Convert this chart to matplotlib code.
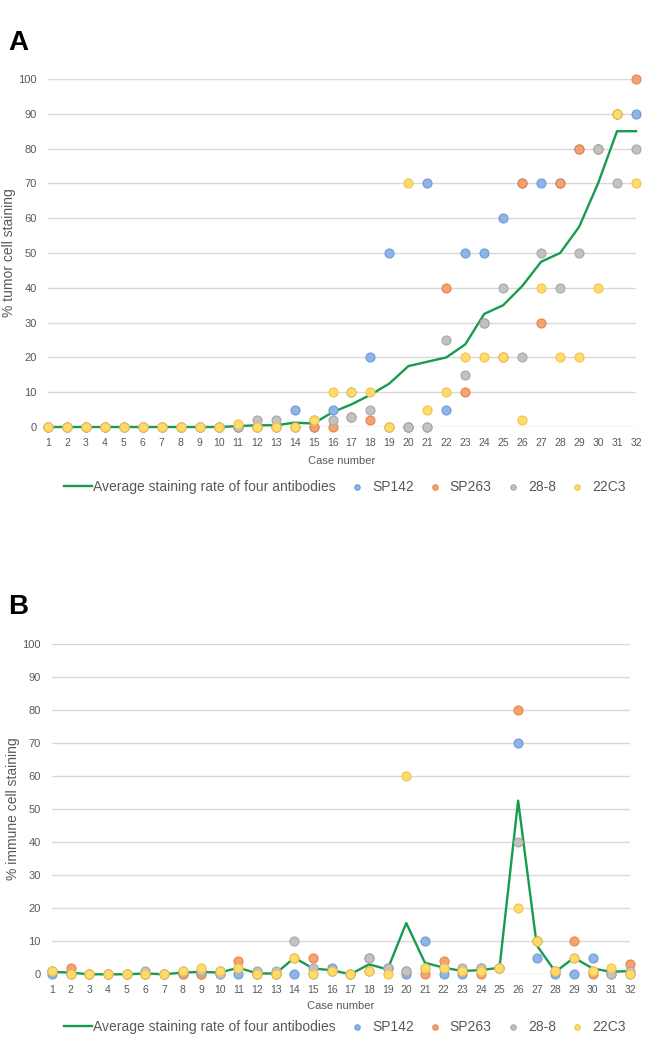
import matplotlib
matplotlib.use('Agg')
import matplotlib.pyplot as plt
import numpy as np

plt.rcParams['font.family'] = ['Liberation Sans', 'DejaVu Sans']

cases = list(range(1, 33))
tick_labels = [str(c) for c in cases]
series_names = ['SP142', 'SP263', '28-8', '22C3']
avg_label = 'Average staining rate of four antibodies'

# Panel A: % tumor cell staining (cases 1..32)
tc_sp142 = [0, 0, 0, 0, 0, 0, 0, 0, 0, 0, 0, 0, 0, 5, 0, 5, 10, 20, 50, 0, 70, 5, 50, 50, 60, 70, 70, 70, 80, 80, 90, 90]
tc_sp263 = [0, 0, 0, 0, 0, 0, 0, 0, 0, 0, 0, 0, 0, 0, 0, 0, 3, 2, 0, 0, 0, 40, 10, 30, 20, 70, 30, 70, 80, 80, 90, 100]
tc_288 = [0, 0, 0, 0, 0, 0, 0, 0, 0, 0, 0, 2, 2, 0, 2, 2, 3, 5, 0, 0, 0, 25, 15, 30, 40, 20, 50, 40, 50, 80, 70, 80]
tc_22c3 = [0, 0, 0, 0, 0, 0, 0, 0, 0, 0, 1, 0, 0, 0, 2, 10, 10, 10, 0, 70, 5, 10, 20, 20, 20, 2, 40, 20, 20, 40, 90, 70]

# Panel B: % immune cell staining (cases 1..32)
ic_sp142 = [0, 0, 0, 0, 0, 0, 0, 0, 0, 1, 0, 0, 0, 0, 0, 2, 0, 5, 2, 0, 10, 0, 0, 2, 2, 70, 5, 0, 0, 5, 1, 0]
ic_sp263 = [1, 2, 0, 0, 0, 0, 0, 0, 0, 0, 4, 0, 0, 5, 5, 1, 0, 1, 2, 1, 0, 4, 1, 0, 2, 80, 10, 1, 10, 0, 0, 3]
ic_288 = [1, 0, 0, 0, 0, 1, 0, 1, 1, 0, 2, 1, 1, 10, 2, 1, 0, 5, 2, 1, 2, 2, 2, 2, 2, 40, 10, 1, 5, 1, 0, 1]
ic_22c3 = [1, 0, 0, 0, 0, 0, 0, 1, 2, 1, 2, 0, 0, 5, 0, 1, 0, 1, 0, 60, 2, 2, 1, 1, 2, 20, 10, 1, 5, 1, 2, 0]

y_ticks = [0, 10, 20, 30, 40, 50, 60, 70, 80, 90, 100]

face_colors = ['#8FB4E6', '#F4A370', '#C2C2C2', '#FFDB6E']
edge_colors = ['#6C9BD6', '#E8834A', '#A8A8A8', '#F0C445']
line_color = '#179B4E'
text_gray = '#595959'

fig = plt.figure(figsize=(6.5, 10.44), dpi=100)


def draw_panel(rect, data, ylabel, letter, letter_pos, legend_y, xlabel_y):
    ax = fig.add_axes(rect)
    arr = np.array(data, dtype=float)
    avg = arr.mean(axis=0)
    for y in y_ticks:
        ax.axhline(y, color='#D9D9D9' if y > 0 else '#CFCFCF', lw=1.0, zorder=0)
    line, = ax.plot(cases, avg, color=line_color, lw=1.7, zorder=2, label=avg_label, clip_on=False)
    handles = [line]
    for vals, name, fc, ec in zip(data, series_names, face_colors, edge_colors):
        h = ax.scatter(cases, vals, s=42, facecolor=fc, edgecolor=ec, linewidth=0.8,
                       zorder=3, clip_on=False, label=name)
        handles.append(h)
    ax.set_xlim(1, 32)
    ax.set_ylim(0, 100)
    ax.set_xticks(cases)
    ax.set_xticklabels(tick_labels, fontsize=7.5, color=text_gray)
    ax.set_yticks(y_ticks)
    ax.set_yticklabels([str(v) for v in y_ticks], fontsize=8, color=text_gray)
    ax.tick_params(axis='x', length=0, pad=8)
    ax.tick_params(axis='y', length=0, pad=8)
    for s in ax.spines.values():
        s.set_visible(False)
    ax.set_ylabel(ylabel, fontsize=10, color=text_gray)
    ax.yaxis.set_label_coords(-0.055, 0.5)
    fig.text(rect[0] + rect[2] / 2, xlabel_y, 'Case number', fontsize=8, color=text_gray,
             ha='center', va='center')
    fig.text(letter_pos[0], letter_pos[1], letter, fontsize=20, fontweight='bold',
             ha='left', va='center')
    leg = fig.legend(handles=handles, labels=[avg_label] + series_names, loc='center left',
                     bbox_to_anchor=(0.09, legend_y), ncol=5, frameon=False,
                     fontsize=10, handlelength=2.0, handletextpad=0.1, columnspacing=0.5,
                     markerscale=0.6, borderaxespad=0)
    for t in leg.get_texts():
        t.set_color(text_gray)
    return ax


draw_panel([48 / 650, 1 - 427 / 1044, 588 / 650, 348 / 1044],
           [tc_sp142, tc_sp263, tc_288, tc_22c3], '% tumor cell staining', 'A',
           (8 / 650, 1 - 43 / 1044), 1 - 487 / 1044, 1 - 461 / 1044)

draw_panel([52 / 650, 1 - 974.3 / 1044, 578 / 650, 330.8 / 1044],
           [ic_sp142, ic_sp263, ic_288, ic_22c3], '% immune cell staining', 'B',
           (8 / 650, 1 - 607 / 1044), 1 - 1027 / 1044, 1 - 1006 / 1044)

fig.savefig('out.png', dpi=100)
